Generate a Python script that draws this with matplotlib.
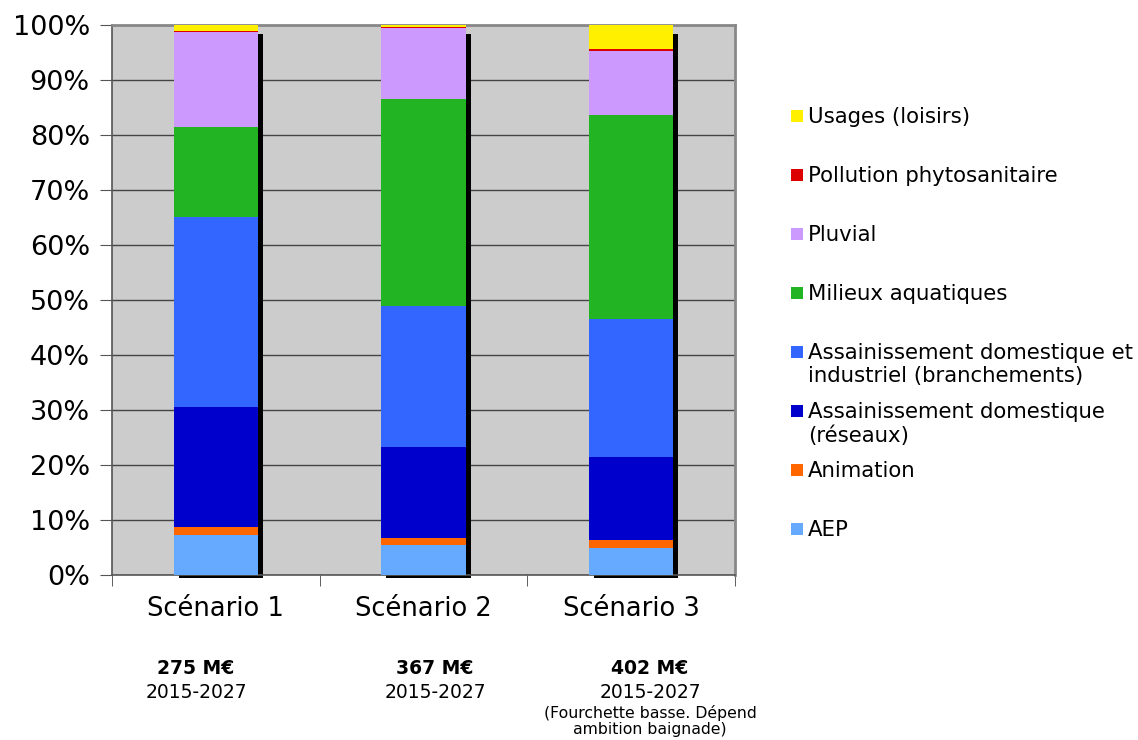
import matplotlib
matplotlib.use("Agg")
import matplotlib.pyplot as plt
from matplotlib.patches import Rectangle
import numpy as np

scenarios = ["Scénario 1", "Scénario 2", "Scénario 3"]
budgets = ["275 M€", "367 M€", "402 M€"]
periods = ["2015-2027", "2015-2027", "2015-2027"]
notes = ["", "", "(Fourchette basse. Dépend\nambition baignade)"]

# postes de dépense, du bas vers le haut de la pile (en %)
categories = ["AEP", "Animation", "Assainissement domestique\n(réseaux)",
              "Assainissement domestique et\nindustriel (branchements)",
              "Milieux aquatiques", "Pluvial", "Pollution phytosanitaire",
              "Usages (loisirs)"]
aep = [7.3, 5.5, 5.0]
animation = [1.4, 1.2, 1.4]
reseaux = [21.8, 16.6, 15.1]
branchements = [34.6, 25.6, 25.0]
milieux = [16.4, 37.6, 37.1]
pluvial = [17.2, 12.9, 11.7]
phyto = [0.3, 0.3, 0.3]
usages = [1.0, 0.3, 4.4]
series = [aep, animation, reseaux, branchements, milieux, pluvial, phyto, usages]
colors = ["#66AAFF", "#FF6600", "#0000CC", "#3366FF", "#22B422",
          "#CC99FF", "#DD0000", "#FFF000"]

fig = plt.figure(figsize=(11.38, 7.4), dpi=100)
W, H = 1138, 740
ax = fig.add_axes([112 / W, 1 - 575 / H, 623 / W, 550 / H])
ax.set_facecolor("#CCCCCC")

x = np.arange(len(scenarios))
width = 0.405
totals = np.sum(series, axis=0)

# ombre portée derrière chaque barre
for xi, tot in zip(x, totals):
    ax.add_patch(Rectangle((xi - width / 2 + 0.024, -0.5), width, tot - 1.2,
                           facecolor="black", edgecolor="none", zorder=2,
                           clip_on=False))

bottom = np.zeros(len(scenarios))
for vals, col in zip(series, colors):
    ax.bar(x, vals, width, bottom=bottom, color=col, zorder=3, linewidth=0)
    bottom += np.array(vals)

ax.set_xlim(-0.5, 2.5)
ax.set_ylim(0, 100)
ax.set_yticks(np.arange(0, 101, 10))
ax.set_yticklabels([f"{v}%" for v in range(0, 101, 10)], fontsize=19.5)
ax.yaxis.grid(True, color="#444444", linewidth=1, zorder=1)
ax.set_axisbelow(True)
ax.tick_params(axis="y", direction="out", length=9, color="#555555", pad=7)

ax.set_xticks(x)
ax.set_xticklabels(scenarios, fontsize=18.5)
ax.set_xticks([-0.5, 0.5, 1.5, 2.5], minor=True)
ax.tick_params(axis="x", which="major", length=0, pad=15)
ax.tick_params(axis="x", which="minor", direction="out", length=8, color="#444444")

for side in ["left", "bottom"]:
    ax.spines[side].set_color("#555555")
    ax.spines[side].set_linewidth(1.2)
for side in ["top", "right"]:
    ax.spines[side].set_color("#888888")
    ax.spines[side].set_linewidth(2)

# textes sous les scénarios
label_x = [196, 435, 650]
for lx, b, p, n in zip(label_x, budgets, periods, notes):
    fig.text(lx / W, 1 - 668 / H, b, ha="center", va="center",
             fontsize=13.5, fontweight="bold")
    fig.text(lx / W, 1 - 692 / H, p, ha="center", va="center", fontsize=13.5)
    if n:
        fig.text(lx / W, 1 - 705 / H, n, ha="center", va="top",
                 fontsize=11.3, linespacing=1.1)

# légende, du haut vers le bas
leg_y = [116, 175, 234, 293, 352, 411, 470, 529]
for ly, lab, col in zip(leg_y, categories[::-1], colors[::-1]):
    fig.patches.append(Rectangle((791 / W, 1 - (ly + 6) / H), 12 / W, 12 / H,
                                 facecolor=col, edgecolor="none",
                                 transform=fig.transFigure, figure=fig))
    fig.text(808 / W, 1 - (ly - 9) / H, lab, ha="left", va="top",
             fontsize=15.3, linespacing=1.2)

fig.savefig("out.png", dpi=100)
